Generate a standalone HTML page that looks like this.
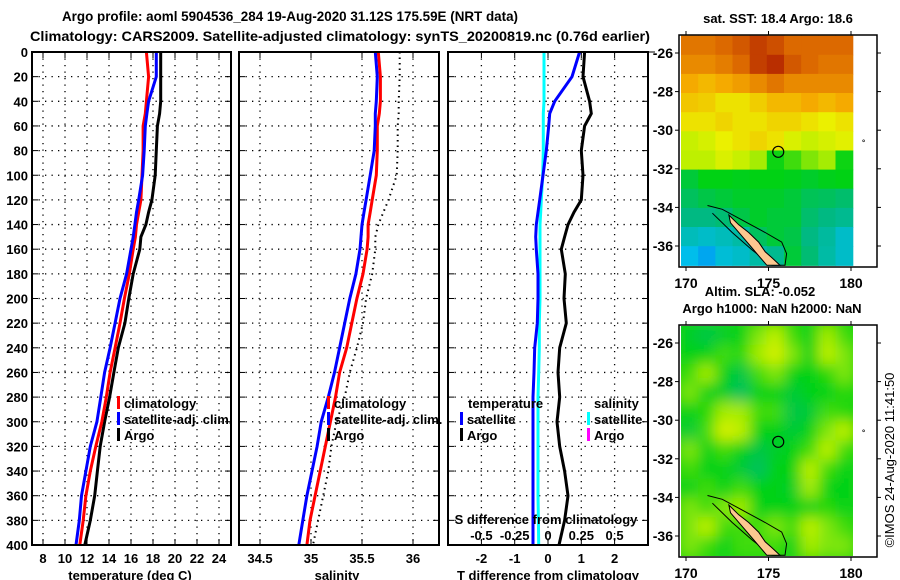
<!DOCTYPE html>
<html><head><meta charset="utf-8">
<style>
html,body{margin:0;padding:0;background:#fff;}
svg{display:block;font-family:"Liberation Sans",sans-serif;font-weight:bold;}
</style></head>
<body>
<svg id="chart" width="900" height="580" viewBox="0 0 900 580" xmlns="http://www.w3.org/2000/svg">
<defs>
<filter id="blur" x="-5%" y="-5%" width="110%" height="110%"><feGaussianBlur stdDeviation="7"/></filter>
<clipPath id="clipBottom"><rect x="681" y="326" width="172" height="230"/></clipPath>
</defs>
<text x="62" y="21" font-size="14" textLength="456" lengthAdjust="spacingAndGlyphs">Argo profile: aoml 5904536_284 19-Aug-2020 31.12S 175.59E (NRT data)</text>
<text x="30" y="41" font-size="14" textLength="620" lengthAdjust="spacingAndGlyphs">Climatology: CARS2009. Satellite-adjusted climatology: synTS_20200819.nc (0.76d earlier)</text>
<g id="layer"></g>
</svg>
<script>
const depths = [0,20,40,50,60,80,100,120,130,140,150,160,180,200,220,240,260,280,300,320,340,360,380,400];
const tempClim = [17.4,17.6,17.4,17.3,17.1,17.1,17.0,16.9,16.7,16.5,16.4,16.2,15.85,15.4,15.0,14.55,14.1,13.75,13.35,12.8,12.3,11.9,11.65,11.35];
const tempSat  = [18.3,18.3,17.6,17.45,17.3,17.2,17.05,16.7,16.5,16.35,16.2,16.0,15.6,15.0,14.55,14.1,13.6,13.25,12.9,12.3,11.9,11.5,11.3,11.0];
const tempArgo = [18.7,18.7,18.7,18.6,18.4,18.3,18.2,17.9,17.6,17.35,16.9,16.8,16.2,15.8,15.45,14.85,14.45,14.05,13.6,13.2,12.95,12.7,12.3,11.8];
const salClim = [35.66,35.68,35.68,35.67,35.65,35.65,35.64,35.6,35.58,35.56,35.56,35.55,35.51,35.45,35.4,35.35,35.28,35.24,35.19,35.14,35.09,35.04,34.99,34.96];
const salSat  = [35.63,35.65,35.64,35.63,35.63,35.62,35.58,35.54,35.52,35.5,35.49,35.48,35.44,35.38,35.33,35.28,35.23,35.17,35.1,35.06,35.01,34.96,34.92,34.88];
const salArgo = [35.87,35.87,35.86,35.86,35.85,35.85,35.84,35.76,35.71,35.66,35.63,35.63,35.6,35.54,35.51,35.45,35.38,35.33,35.25,35.2,35.17,35.12,35.07,35.02];
const tDiffSat  = [0.95,0.72,0.2,0.05,0.02,-0.05,-0.15,-0.25,-0.3,-0.35,-0.37,-0.35,-0.3,-0.3,-0.32,-0.4,-0.42,-0.45,-0.45,-0.45,-0.45,-0.45,-0.45,-0.45];
const tDiffArgo = [1.1,1.05,1.25,1.3,1.1,1.0,1.05,1.0,0.78,0.6,0.5,0.4,0.52,0.48,0.55,0.35,0.3,0.35,0.27,0.35,0.5,0.6,0.5,0.33];
const sDiffSat  = [-0.03,-0.03,-0.03,-0.035,-0.035,-0.035,-0.04,-0.05,-0.055,-0.06,-0.06,-0.06,-0.06,-0.06,-0.065,-0.065,-0.07,-0.075,-0.075,-0.075,-0.075,-0.075,-0.072,-0.07];
const depthTicks = [0,20,40,60,80,100,120,140,160,180,200,220,240,260,280,300,320,340,360,380,400];
const tempTicks = [8,10,12,14,16,18,20,22,24];
const salTicks = [34.5,35,35.5,36];
const tDiffTicks = [-2,-1,0,1,2];
const sDiffTicks = ["-0.5","-0.25","0","0.25","0.5"];
const mapLonTicks = [170,175,180];
const mapLatTicks = [-26,-28,-30,-32,-34,-36];
const sstGrid = [
[0.88,0.88,0.9,0.92,0.95,0.93,0.9,0.9,0.9,0.9],
[0.85,0.85,0.87,0.9,0.95,0.97,0.92,0.9,0.88,0.88],
[0.8,0.78,0.8,0.82,0.85,0.88,0.85,0.85,0.85,0.85],
[0.76,0.75,0.72,0.72,0.75,0.78,0.78,0.8,0.78,0.8],
[0.72,0.72,0.74,0.72,0.72,0.74,0.74,0.72,0.7,0.72],
[0.62,0.65,0.7,0.72,0.74,0.72,0.66,0.62,0.65,0.68],
[0.6,0.6,0.66,0.62,0.58,0.46,0.5,0.55,0.58,0.46],
[0.4,0.45,0.45,0.44,0.45,0.45,0.44,0.42,0.44,0.45],
[0.35,0.38,0.4,0.42,0.42,0.42,0.4,0.36,0.35,0.33],
[0.3,0.3,0.32,0.38,0.42,0.4,0.4,0.33,0.3,0.28],
[0.22,0.2,0.22,0.25,0.35,0.4,0.38,0.3,0.26,0.2],
[0.15,0.12,0.18,0.2,0.25,0.28,0.4,0.32,0.25,0.2]];
const slaGrid = [
[0.42,0.38,0.42,0.45,0.55,0.6,0.5,0.45,0.58,0.5],
[0.45,0.45,0.5,0.48,0.58,0.65,0.55,0.45,0.6,0.55],
[0.5,0.58,0.45,0.38,0.5,0.55,0.45,0.45,0.48,0.55],
[0.55,0.45,0.42,0.35,0.45,0.45,0.4,0.45,0.45,0.48],
[0.45,0.48,0.58,0.58,0.5,0.5,0.38,0.4,0.5,0.48],
[0.4,0.5,0.65,0.6,0.45,0.45,0.4,0.45,0.55,0.6],
[0.55,0.45,0.5,0.45,0.38,0.42,0.45,0.5,0.6,0.5],
[0.5,0.45,0.45,0.4,0.35,0.45,0.45,0.6,0.5,0.45],
[0.45,0.5,0.45,0.5,0.45,0.45,0.42,0.58,0.45,0.45],
[0.55,0.5,0.55,0.58,0.45,0.45,0.45,0.45,0.48,0.45],
[0.55,0.6,0.5,0.5,0.5,0.55,0.5,0.6,0.55,0.5],
[0.55,0.5,0.45,0.5,0.5,0.5,0.45,0.58,0.55,0.55]];
const islandLon = [172.6,173.2,173.8,174.4,174.8,175.2,175.7,174.9,174.4,173.9,173.3,172.7];
const islandLat = [-34.4,-34.9,-35.3,-35.8,-36.3,-36.6,-37.0,-37.0,-36.5,-36.0,-35.4,-34.8];
const contourLon = [171.3,172.2,173.5,174.8,175.8,176.1,176.0,175.2,174.0,172.8,171.6];
const contourLat = [-33.9,-34.1,-34.7,-35.3,-35.8,-36.4,-37.0,-37.0,-36.2,-35.3,-34.3];
const profLon = 175.59, profLat = -31.12;

const NS='http://www.w3.org/2000/svg';
const layer=document.getElementById('layer');
function mk(tag,attrs,parent){const e=document.createElementNS(NS,tag);for(const k in attrs)e.setAttribute(k,attrs[k]);(parent||layer).appendChild(e);return e;}
function txt(s,x,y,size,anchor,parent){const t=mk('text',{x:x,y:y,'font-size':size,'text-anchor':anchor||'start'},parent);t.textContent=s;return t;}

const PT=52, PB=545;
const yD = d => PT + d*(PB-PT)/400;
const panels = [
 {name:'temperature-panel', x0:32, x1:231},
 {name:'salinity-panel', x0:239, x1:439},
 {name:'difference-panel', x0:448, x1:648}];
const xT = v => 43 + 11*(v-8);
const xS = v => 260 + 102*(v-34.5);
const xTD = v => 548 + 33.3*v;
const xSD = v => 548 + 133.2*v;

panels.forEach((p,i)=>{
  const g=mk('g',{});
  
  
  depthTicks.forEach(d=>{
    if(d>0&&d<400){const l=mk('line',{x1:p.x0,x2:p.x1,y1:yD(d),y2:yD(d),stroke:'#000','stroke-width':1.3,'stroke-dasharray':'1.3 5.2'},g);
    
    }
    mk('line',{x1:p.x0,x2:p.x0+6,y1:yD(d),y2:yD(d),stroke:'#000','stroke-width':1},g);
    mk('line',{x1:p.x1-6,x2:p.x1,y1:yD(d),y2:yD(d),stroke:'#000','stroke-width':1},g);
  });
});
function vgrid(xs,labels,ylab){xs.forEach((x,i)=>{
  const l=mk('line',{x1:x,x2:x,y1:PT,y2:PB,stroke:'#000','stroke-width':1.3,'stroke-dasharray':'1.3 5.2'});
  
  
  mk('line',{x1:x,x2:x,y1:PT,y2:PT+6,stroke:'#000'});
  mk('line',{x1:x,x2:x,y1:PB-6,y2:PB,stroke:'#000'});
  const t=txt(labels[i],x,ylab,13,'middle');
  
  
});}
vgrid(tempTicks.map(xT),tempTicks.map(String),563);
vgrid(salTicks.map(xS),salTicks.map(String),563);
vgrid(tDiffTicks.map(xTD),tDiffTicks.map(String),563);
sDiffTicks.forEach(s=>{const t=txt(s,xSD(parseFloat(s)),540,13,'middle');
  
  });
depthTicks.forEach(d=>{const t=txt(String(d),28,yD(d)+5,13,'end');
  
  });
mk('line',{x1:648,x2:655,y1:PT,y2:PT,stroke:'#000'});

function series(xf,vals,color,name,dash,w){
  const pts=vals.map((v,i)=>xf(v).toFixed(1)+','+yD(depths[i]).toFixed(1)).join(' ');
  const a={points:pts,fill:'none',stroke:color,'stroke-width':w||3,'stroke-linejoin':'miter'};
  if(dash)a['stroke-dasharray']=dash;
  const e=mk('polyline',a);
  
  
}
series(xT,tempArgo,'#000','temp-argo-line');
series(xT,tempClim,'#f00','temp-climatology-line');
series(xT,tempSat,'#00f','temp-satellite-line');
series(xS,salArgo,'#000','salinity-argo-line','1.5 4',2);
series(xS,salClim,'#f00','salinity-climatology-line');
series(xS,salSat,'#00f','salinity-satellite-line');
series(xTD,tDiffArgo,'#000','tdiff-argo-line');
series(xSD,sDiffSat,'#0ff','sdiff-satellite-line');
series(xTD,tDiffSat,'#00f','tdiff-satellite-line');

panels.forEach(p=>{const r=mk('rect',{x:p.x0,y:PT,width:p.x1-p.x0,height:PB-PT,fill:'none',stroke:'#000','stroke-width':2});
  
  });

function legend(x,y,color,label,name){
  const r=mk('rect',{x:x,y:y-8,width:3,height:13,fill:color});
  const t=txt(label,x+7,y+4,13,'start');
  
  
  
  
}
legend(117,404,'#f00','climatology','legend-temp-climatology');
legend(117,420,'#00f','satellite-adj. clim.','legend-temp-satellite');
legend(117,436,'#000','Argo','legend-temp-argo');
legend(327,404,'#f00','climatology','legend-sal-climatology');
legend(327,420,'#00f','satellite-adj. clim.','legend-sal-satellite');
legend(327,436,'#000','Argo','legend-sal-argo');
let t=txt('temperature',468,408,13);  
t=txt('salinity',594,408,13);  
legend(460,420,'#00f','satellite','legend-tdiff-satellite');
legend(460,436,'#000','Argo','legend-tdiff-argo');
legend(587,420,'#0ff','satellite','legend-sdiff-satellite');
legend(587,436,'#f0f','Argo','legend-sdiff-argo');
t=txt('S difference from climatology',546,524,13,'middle');  
t=txt('temperature (deg C)',130,580,13,'middle');  
t=txt('salinity',337,580,13,'middle');  
t=txt('T difference from climatology',548,580,13,'middle');  

const stops=[[0,[0,70,255]],[0.15,[0,190,235]],[0.3,[0,185,130]],[0.45,[0,210,20]],[0.6,[190,240,0]],[0.7,[235,240,0]],[0.8,[245,170,0]],[0.9,[220,105,0]],[1,[170,20,0]]];
function cmap(v){for(let i=1;i<stops.length;i++){if(v<=stops[i][0]){const a=stops[i-1],b=stops[i];const f=(v-a[0])/(b[0]-a[0]);return 'rgb('+a[1].map((c,k)=>Math.round(c+f*(b[1][k]-c))).join(',')+')';}}return 'rgb(170,20,0)';}
function drawMap(top,grid,name,titles,smooth){
  const g=mk('g',{});
  
  
  const lx=l=>686+16.5*(l-170);
  const ly=la=>top+18+19.3*(-26-la);
  const cx0=lx(169.7), cx1=lx(180.1), cy0=ly(-25.1), cy1=ly(-37.0);
  const cw=(cx1-cx0)/grid[0].length, ch=(cy1-cy0)/grid.length;
  let cells=g;
  if(smooth){const clip=mk('g',{'clip-path':'url(#clipBottom)'},g);cells=mk('g',{filter:'url(#blur)'},clip);
    mk('rect',{x:cx0-15,y:cy0-15,width:cx1-cx0+30,height:cy1-cy0+30,fill:cmap(0.47)},cells);}
  grid.forEach((row,r)=>row.forEach((v,c)=>{
    const cell=mk('rect',{x:(cx0+c*cw).toFixed(1),y:(cy0+r*ch).toFixed(1),width:(cw+0.6).toFixed(1),height:(ch+0.6).toFixed(1),fill:cmap(v)},cells);
    
    
  }));
  const cp=contourLon.map((l,i)=>lx(l).toFixed(1)+','+ly(contourLat[i]).toFixed(1)).join(' ');
  const co=mk('polyline',{points:cp,fill:'none',stroke:'#000','stroke-width':1},g);
  
  
  const ip=islandLon.map((l,i)=>lx(l).toFixed(1)+','+ly(islandLat[i]).toFixed(1)).join(' ');
  const is=mk('polygon',{points:ip,fill:'#fcc890',stroke:'#000','stroke-width':1},g);
  
  
  const fr=mk('rect',{x:679,y:top,width:198,height:232,fill:'none',stroke:'#000','stroke-width':1.5},g);
  
  
  const c=mk('circle',{cx:lx(profLon),cy:ly(profLat),r:5.5,fill:'none',stroke:'#000','stroke-width':1.2},g);
  
  
  mapLonTicks.forEach(l=>{mk('line',{x1:lx(l),x2:lx(l),y1:top-4,y2:top,stroke:'#000'},g);mk('line',{x1:lx(l),x2:lx(l),y1:top+232,y2:top+236,stroke:'#000'},g);
    const tt=txt(String(l),lx(l),top+253,14,'middle',g);});
  mapLatTicks.forEach(la=>{mk('line',{x1:675,x2:679,y1:ly(la),y2:ly(la),stroke:'#000'},g);mk('line',{x1:877,x2:881,y1:ly(la),y2:ly(la),stroke:'#000'},g);
    const tt=txt(String(la),673,ly(la)+5,14,'end',g);});
  mk('text',{x:862,y:ly(-30.8),'font-size':8},g).textContent='°';
  titles.forEach((s,i)=>{const tt=txt(s[0],s[1],s[2],13,'middle',g);});
}
drawMap(35,sstGrid,'sst-map',[['sat. SST: 18.4 Argo: 18.6',778,23]],false);
drawMap(325,slaGrid,'sla-map',[['Altim. SLA: -0.052',760,296],['Argo h1000: NaN h2000: NaN',772,313]],true);
const cr=mk('text',{x:0,y:0,'font-size':13,'font-weight':'normal','text-anchor':'middle',transform:'translate(894,460) rotate(-90)'});
cr.textContent='©IMOS 24-Aug-2020 11:41:50';


</script>
</body></html>
